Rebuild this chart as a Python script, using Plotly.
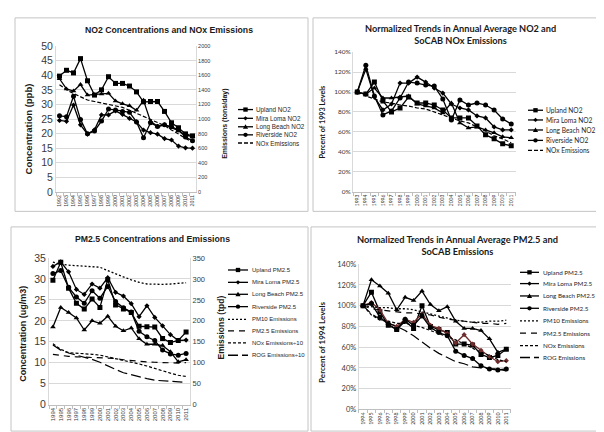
import plotly.graph_objects as go

W, H = 604, 432
def fx(x): return x / W
def fy(y): return 1 - y / H

# ---------------- data ----------------
years_no2 = ["1992","1993","1994","1995","1996","1997","1998","1999","2000","2001",
             "2002","2003","2004","2005","2006","2007","2008","2009","2010","2011"]
upland_no2 = [39.7, 41.7, 40.8, 45.7, 38.1, 33.2, 35.0, 39.5, 37.2, 37.2,
              36.3, 34.3, 30.9, 31.0, 31.0, 27.6, 23.7, 22.0, 19.9, 19.2]
mira_loma_no2 = [24.5, 24.2, 29.8, 23.0, 19.8, 21.3, 26.4, 26.4, 27.8, 26.6,
                 25.2, 24.0, 21.2, 20.3, 19.8, 18.3, 17.8, 15.7, 15.1, 15.0]
long_beach_no2 = [38.8, 35.3, 34.6, 36.8, 33.2, 33.3, 33.6, 33.8, 31.2, 30.2,
                  29.5, 28.0, 31.4, 24.2, 22.5, 23.0, 22.0, 21.0, 19.5, 19.0]
riverside_no2 = [26.1, 25.8, 32.8, 24.8, 19.9, 20.9, 24.3, 28.4, 28.1, 27.6,
                 27.3, 24.0, 18.6, 23.7, 22.4, 23.0, 22.4, 21.2, 18.8, 17.5]
nox_emissions = [1470, 1400, 1350, 1300, 1260, 1240, 1220, 1200, 1180, 1160,
                 1120, 1080, 1040, 1000, 960, 910, 850, 790, 740, 680]

years_norm_no2 = ["1993","1994","1995","1996","1997","1998","1999","2000","2001","2002",
                  "2003","2004","2005","2006","2007","2008","2009","2010","2011"]
upland_no2_pct = [100, 98, 110, 91, 80, 84, 95, 89, 89, 87, 82, 74, 74, 74, 66, 57, 53, 48, 46]
mira_loma_no2_pct = [100, 123, 95, 82, 88, 109, 109, 115, 110, 104, 99, 88, 84, 82, 76, 74, 65, 62, 62]
long_beach_no2_pct = [100, 98, 104, 94, 94, 95, 96, 88, 86, 84, 79, 89, 69, 64, 65, 62, 59, 55, 54]
riverside_no2_pct = [100, 127, 96, 77, 81, 94, 110, 109, 107, 106, 93, 72, 92, 87, 89, 87, 82, 73, 68]
nox_no2_pct = [100, 96, 93, 90, 89, 87, 86, 84, 83, 80, 77, 74, 71, 69, 65, 61, 56, 53, 49]

years_pm = ["1994","1995","1996","1997","1998","1999","2000","2001","2002",
            "2003","2004","2005","2006","2007","2008","2009","2010","2011"]
upland_pm25 = [29.7, 34.0, 27.8, 24.2, 22.8, 25.2, 23.2, 29.8, 23.8, 22.8, 22.0, 18.7, 18.6, 18.5, 15.8, 14.8, 15.3, 17.3]
mira_loma_pm25 = [33.0, 34.1, 31.7, 27.5, 26.3, 28.8, 27.8, 30.3, 26.8, 25.9, 24.1, 21.0, 23.6, 20.8, 18.8, 16.7, 15.3, 15.4]
long_beach_pm25 = [18.5, 23.2, 22.0, 20.7, 17.8, 20.0, 19.4, 21.1, 18.7, 17.6, 18.3, 15.7, 14.4, 14.4, 14.1, 12.6, 10.2, 10.7]
riverside_pm25 = [31.3, 32.0, 28.0, 25.7, 24.2, 27.2, 25.4, 28.2, 24.6, 23.1, 22.1, 17.5, 16.2, 15.3, 13.0, 12.1, 11.8, 12.2]
pm10_emis = [340, 335, 333, 332, 331, 330, 328, 320, 312, 305, 298, 292, 288, 287, 287, 288, 289, 291]
pm25_emis = [120, 117, 115, 114, 113, 112, 112, 111, 110, 107, 105, 103, 102, 101, 100, 99.5, 99, 100]
nox_emis_div10 = [145, 132, 124, 123, 121, 120, 118, 114, 110, 106, 102, 97, 92, 86, 80, 75, 70, 67]
rog_emis_div10 = [142, 130, 123, 118, 113, 108, 101, 92, 84, 76, 71, 66, 62, 58, 57, 56, 55, 53]

upland_pm_pct = [100, 113, 94, 81, 77, 85, 78, 100, 80, 77, 74, 63, 63, 62, 53, 50, 52, 58]
mira_loma_pm_pct = [100, 103, 96, 83, 80, 87, 84, 92, 81, 78, 73, 64, 72, 63, 57, 51, 46, 47]
long_beach_pm_pct = [100, 125, 119, 112, 96, 108, 105, 114, 101, 95, 99, 85, 78, 78, 76, 68, 55, 58]
riverside_pm_pct = [100, 102, 89, 82, 77, 87, 81, 90, 79, 74, 71, 56, 52, 49, 42, 39, 38, 39]
pm10_pct = [100, 99, 98, 98, 97, 97, 96, 94, 92, 90, 88, 86, 85, 84, 84, 85, 85, 86]
pm25_emis_pct = [100, 97, 96, 95, 94, 93, 93, 92, 91, 89, 87, 86, 85, 84, 83, 83, 82, 83]
nox_pm_pct = [100, 91, 86, 85, 83, 83, 81, 79, 76, 73, 70, 67, 63, 59, 55, 52, 48, 46]
rog_pm_pct = [100, 92, 87, 83, 80, 76, 71, 65, 59, 54, 50, 46, 44, 41, 40, 39, 39, 37]

# ---------------- styles ----------------
ARIAL = "Liberation Sans, Arial, sans-serif"
CALI = "Lato, Liberation Sans, sans-serif"
TXT = "#3a3a3a"
GRID = "#d9d9d9"
DASH_NOX1 = "4px,2px"
DASH_PM10 = "2px,2px"
DASH_PM25 = "6px,5px"
DASH_NOX = "3px,2px"
DASH_ROG = "10px,4px"

fig = go.Figure()

def add(x, y, xa, ya, symbol=None, dash="solid", color="black", width=1.3, msize=5):
    fig.add_trace(go.Scatter(
        x=x, y=y, xaxis=xa, yaxis=ya,
        mode="lines+markers" if symbol else "lines",
        line=dict(color=color, width=width, dash=dash),
        marker=dict(symbol=symbol or "circle", size=msize, color=color),
        showlegend=False, hoverinfo="skip"))

# Panel 1
add(years_no2, upland_no2, "x", "y", "square")
add(years_no2, mira_loma_no2, "x", "y", "diamond", msize=4)
add(years_no2, long_beach_no2, "x", "y", "triangle-up")
add(years_no2, riverside_no2, "x", "y", "circle")
add(years_no2, nox_emissions, "x", "y2", None, DASH_NOX1, width=1.2)

# Panel 2
add(years_norm_no2, upland_no2_pct, "x2", "y3", "square")
add(years_norm_no2, mira_loma_no2_pct, "x2", "y3", "diamond", msize=4)
add(years_norm_no2, long_beach_no2_pct, "x2", "y3", "triangle-up")
add(years_norm_no2, riverside_no2_pct, "x2", "y3", "circle")
add(years_norm_no2, nox_no2_pct, "x2", "y3", None, DASH_NOX1, width=1.2)

# Panel 3
add(years_pm, upland_pm25, "x3", "y4", "square")
add(years_pm, mira_loma_pm25, "x3", "y4", "diamond", msize=4)
add(years_pm, long_beach_pm25, "x3", "y4", "triangle-up")
add(years_pm, riverside_pm25, "x3", "y4", "circle")
add(years_pm, pm10_emis, "x3", "y5", None, DASH_PM10, width=1.3)
add(years_pm, pm25_emis, "x3", "y5", None, DASH_PM25, width=1.2)
add(years_pm, nox_emis_div10, "x3", "y5", None, DASH_NOX, width=1.2)
add(years_pm, rog_emis_div10, "x3", "y5", None, DASH_ROG, width=1.2)

# Panel 4
add(years_pm, upland_pm_pct, "x4", "y6", "square")
add(years_pm, mira_loma_pm_pct, "x4", "y6", "diamond", color="#6e2c2c", msize=4)
add(years_pm, long_beach_pm_pct, "x4", "y6", "triangle-up")
add(years_pm, riverside_pm_pct, "x4", "y6", "circle")
add(years_pm, pm10_pct, "x4", "y6", None, DASH_PM10, width=1.3)
add(years_pm, pm25_emis_pct, "x4", "y6", None, DASH_PM25, width=1.2)
add(years_pm, nox_pm_pct, "x4", "y6", None, DASH_NOX, width=1.2)
add(years_pm, rog_pm_pct, "x4", "y6", None, DASH_ROG, width=1.2)

def xax(dom, anchor, n, font, size=5.5):
    return dict(domain=[fx(dom[0]), fx(dom[1])], anchor=anchor, type="category",
                range=[-0.5, n - 0.5], tickangle=-90, tickson="boundaries", dtick=1,
                tickfont=dict(family=font, size=size, color=TXT),
                showgrid=False, showline=True, linecolor="#bfbfbf", linewidth=1,
                ticks="outside", ticklen=3, tickcolor="#bfbfbf", zeroline=False)

def yax(dom, anchor, rng, dtick, font, size, suffix="", grid=True):
    return dict(domain=[fy(dom[1]), fy(dom[0])], anchor=anchor, range=rng, dtick=dtick,
                tickfont=dict(family=font, size=size, color=TXT), ticksuffix=suffix,
                showgrid=grid, gridcolor=GRID, gridwidth=1, zeroline=False,
                showline=True, linecolor=GRID, linewidth=1, ticks="")

layout = dict(
    width=W, height=H, margin=dict(l=0, r=0, t=0, b=0),
    paper_bgcolor="white", plot_bgcolor="white", showlegend=False,
    xaxis=xax((48, 188), "y", 20, ARIAL, 5.3),
    yaxis=yax((33, 183), "x", [0, 50], 5, ARIAL, 10.5),
    yaxis2=dict(overlaying="y", side="right", anchor="x", range=[0, 2000], dtick=200,
                tickfont=dict(family=ARIAL, size=5.5, color=TXT), showgrid=False,
                zeroline=False, showline=True, linecolor=GRID),
    xaxis2=xax((345, 507.5), "y3", 19, CALI, 5),
    yaxis3=yax((39.3, 182.7), "x2", [0, 140], 20, CALI, 6.5, "%"),
    xaxis3=xax((41, 182), "y4", 18, ARIAL, 6),
    yaxis4=yax((251, 401.7), "x3", [0, 35], 5, ARIAL, 10.5),
    yaxis5=dict(overlaying="y4", side="right", anchor="x3", range=[0, 350], dtick=50,
                tickfont=dict(family=ARIAL, size=7.5, color=TXT), showgrid=False,
                zeroline=False, showline=True, linecolor=GRID),
    xaxis4=xax((350.8, 502.5), "y6", 18, CALI, 5.3),
    yaxis6=yax((257.3, 406.7), "x4", [0, 140], 20, CALI, 7.5, "%"),
)

shapes = []
annotations = []

# panel frames
for (x0, y0, x1, y1) in [(7, 4, 300, 203), (305, 4, 600, 203), (3, 219, 300, 429), (303, 219, 601, 429)]:
    shapes.append(dict(type="rect", xref="paper", yref="paper", x0=fx(x0), x1=fx(x1),
                       y0=fy(y1), y1=fy(y0), line=dict(color="#c4c4c4", width=1)))

def text(x, y, s, size, font, bold=False, angle=0, xanchor="center", color="#1a1a1a"):
    annotations.append(dict(xref="paper", yref="paper", x=fx(x), y=fy(y),
                            text=("<b>%s</b>" % s) if bold else s, showarrow=False,
                            textangle=angle, xanchor=xanchor, yanchor="middle",
                            borderpad=0, font=dict(family=font, size=size, color=color)))

# titles
text(161, 16, "NO2 Concentrations and NOx Emissions", 8.7, ARIAL, True)
text(452, 21.5, "Normalized Trends in Annual Average NO2 and<br>SoCAB NOx Emissions", 9.2, CALI, True)
text(144, 231, "PM2.5 Concentrations and Emissions", 8.7, ARIAL, True)
text(449, 238.3, "Normalized Trends in Annual Average PM2.5 and<br>SoCAB Emissions", 9.3, CALI, True)

# axis titles
text(20, 118.7, "Concentration (ppb)", 9.5, ARIAL, True, -90)
text(216.7, 113.3, "Emissions (tons/day)", 7, ARIAL, True, -90)
text(315, 111.7, "Percent of 1993 Levels", 7.2, CALI, True, -90)
text(15, 329, "Concentration (ug/m3)", 9, ARIAL, True, -90)
text(213, 322.5, "Emissions (tpd)", 8.5, ARIAL, True, -90)
text(314, 338.3, "Percent of 1994 Levels", 8, CALI, True, -90)

def marker_shape(sym, cx, cy, color="black"):
    r = 2.2
    if sym == "square":
        shapes.append(dict(type="rect", xref="paper", yref="paper", x0=fx(cx - r), x1=fx(cx + r),
                           y0=fy(cy + r), y1=fy(cy - r), fillcolor=color, line=dict(width=0)))
    elif sym == "circle":
        shapes.append(dict(type="circle", xref="paper", yref="paper", x0=fx(cx - r), x1=fx(cx + r),
                           y0=fy(cy + r), y1=fy(cy - r), fillcolor=color, line=dict(width=0)))
    elif sym == "triangle":
        p = "M %f,%f L %f,%f L %f,%f Z" % (fx(cx), fy(cy - 2.6), fx(cx + 2.6), fy(cy + 2.0), fx(cx - 2.6), fy(cy + 2.0))
        shapes.append(dict(type="path", xref="paper", yref="paper", path=p, fillcolor=color, line=dict(width=0)))
    elif sym == "diamond":
        p = "M %f,%f L %f,%f L %f,%f L %f,%f Z" % (fx(cx), fy(cy - 2.2), fx(cx + 2.2), fy(cy), fx(cx), fy(cy + 2.2), fx(cx - 2.2), fy(cy))
        shapes.append(dict(type="path", xref="paper", yref="paper", path=p, fillcolor=color, line=dict(width=0)))

def legend(x0, x1, tx, ys, entries, font, size):
    for y, (label, sym, dash) in zip(ys, entries):
        shapes.append(dict(type="line", xref="paper", yref="paper", x0=fx(x0), x1=fx(x1),
                           y0=fy(y), y1=fy(y), line=dict(color="black", width=1.3, dash=dash)))
        if sym:
            marker_shape(sym, (x0 + x1) / 2, y)
        text(tx, y, label, size, font, False, 0, "left", "#262626")

legend(230, 245, 246.5, [98.3, 107.3, 116, 124.3, 132.7],
       [("Upland NO2", "square", "solid"), ("Mira Loma NO2", "diamond", "solid"),
        ("Long Beach NO2", "triangle", "solid"), ("Riverside NO2", "circle", "solid"),
        ("NOx Emissions", None, DASH_NOX1)], ARIAL, 6.3)
legend(520, 535, 536.5, [99, 109, 119.3, 130, 140.3],
       [("Upland NO2", "square", "solid"), ("Mira Loma NO2", "diamond", "solid"),
        ("Long Beach NO2", "triangle", "solid"), ("Riverside NO2", "circle", "solid"),
        ("NOx Emissions", None, DASH_NOX1)], CALI, 6.6)
legend(220, 240, 242.5, [263.3, 276, 288.3, 301, 314, 326, 338.3, 351],
       [("Upland PM2.5", "square", "solid"), ("Mira Loma PM2.5", "diamond", "solid"),
        ("Long Beach PM2.5", "triangle", "solid"), ("Riverside PM2.5", "circle", "solid"),
        ("PM10 Emissions", None, DASH_PM10), ("PM2.5 Emissions", None, DASH_PM25),
        ("NOx Emissions÷10", None, DASH_NOX), ("ROG Emissions÷10", None, DASH_ROG)], ARIAL, 6.0)
legend(512, 531, 533.5, [265.7, 277.3, 290, 302.7, 315.7, 328.3, 341, 353.3],
       [("Upland PM2.5", "square", "solid"), ("Mira Loma PM2.5", "diamond", "solid"),
        ("Long Beach PM2.5", "triangle", "solid"), ("Riverside PM2.5", "circle", "solid"),
        ("PM10 Emissions", None, DASH_PM10), ("PM2.5 Emissions", None, DASH_PM25),
        ("NOx Emissions", None, DASH_NOX), ("ROG Emissions", None, DASH_ROG)], CALI, 6.3)

layout["shapes"] = shapes
layout["annotations"] = annotations
fig.update_layout(**layout)
fig.write_html("out.html")
